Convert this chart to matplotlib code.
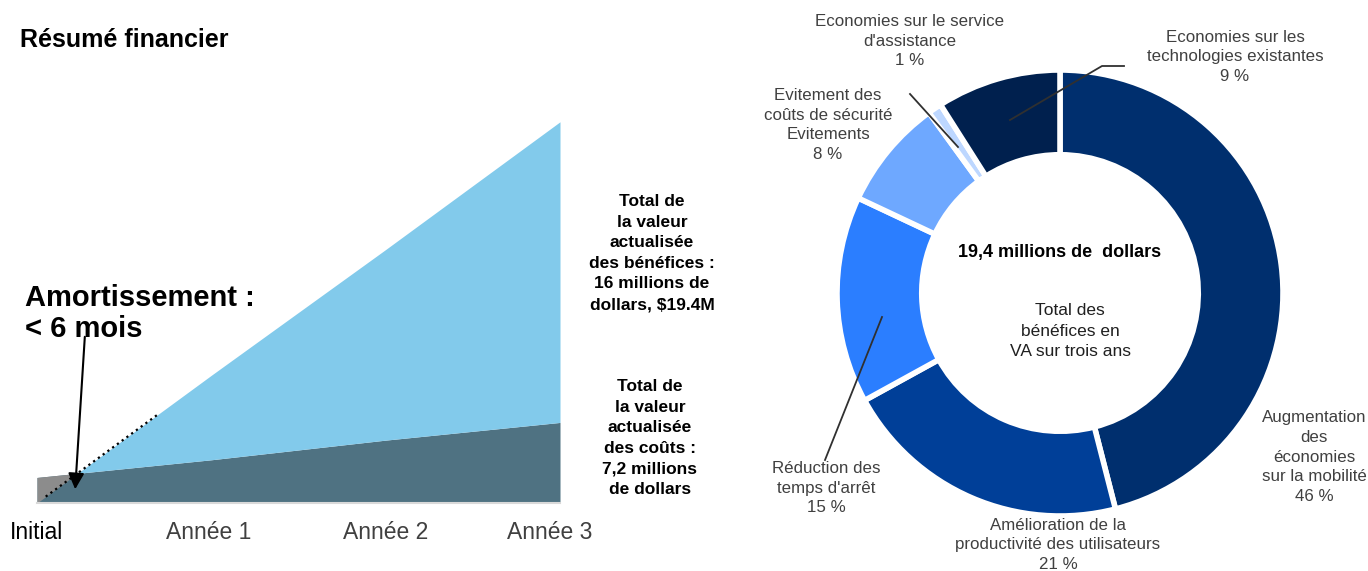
import numpy as np
import matplotlib
matplotlib.use("Agg")
import matplotlib.pyplot as plt
import matplotlib.transforms as mtransforms

plt.rcParams['font.family'] = ['Liberation Sans', 'DejaVu Sans']

# Données - courbe cumulative (millions $)
annees = [0, 1, 2, 3]
etiquettes_annees = ['Initial', 'Année 1', 'Année 2', 'Année 3']
benefices = [0.0, 6.5, 12.9, 19.4]
couts = [1.3, 2.2, 3.2, 4.1]

# Données - répartition des bénéfices (%)
parts = [46, 21, 15, 8, 1, 9]
noms_parts = [
    "Augmentation\ndes\néconomies\nsur la mobilité",
    "Amélioration de la\nproductivité des utilisateurs",
    "Réduction des\ntemps d'arrêt",
    "Evitement des\ncoûts de sécurité\nEvitements",
    "Economies sur le service\nd'assistance",
    "Economies sur les\ntechnologies existantes",
]
couleurs_parts = ['#002F6E', '#003F98', '#2B7EFF', '#6EA8FF', '#BDD7FF', '#00204E']

W, H = 1368, 571


def px_box(x0, y0, x1, y1):
    # pixels (haut-gauche) -> fraction de figure
    return [x0 / W, 1 - y1 / H, (x1 - x0) / W, (y1 - y0) / H]


fig = plt.figure(figsize=(W / 100, H / 100), dpi=100)

# Graphique de gauche: surfaces
ax1 = fig.add_axes(px_box(37, 110, 560, 503))
x = np.array(annees, dtype=float)
b = np.array(benefices)
c = np.array(couts)
ax1.fill_between(x, 0, c, color='#4F7282', lw=0)
ax1.fill_between(x, b, c, where=c >= b, interpolate=True, color='#8C8C8C', lw=0)
ax1.fill_between(x, c, b, where=b >= c, interpolate=True, color='#82CAEB', lw=0)
xs = np.linspace(0.05, 0.7, 9)
ax1.plot(xs, np.interp(xs, x, b), ls=':', color='black', lw=1.6)
ax1.set_xlim(0, 3)
ax1.set_ylim(0, 20)
for s in ['top', 'right', 'left']:
    ax1.spines[s].set_visible(False)
ax1.spines['bottom'].set_color('#D9D9D9')
ax1.spines['bottom'].set_linewidth(1.5)
ax1.set_yticks([])
ax1.set_xticks(annees)
ax1.set_xticklabels(etiquettes_annees, fontsize=16.5)
ax1.tick_params(axis='x', length=0, pad=13)
decalages = [0, -3, 0, -10]
for i, t in enumerate(ax1.get_xticklabels()):
    t.set_color('black' if i == 0 else '#404040')
    t.set_transform(t.get_transform() +
                    mtransforms.ScaledTranslation(decalages[i] / 100, 0, fig.dpi_scale_trans))

# Graphique de droite: anneau
ax2 = fig.add_axes(px_box(837, 70, 1283, 516))
ax2.pie(parts, colors=couleurs_parts, startangle=90, counterclock=False,
        radius=1, wedgeprops=dict(width=0.38, edgecolor='white', linewidth=4))
ax2.set_xlim(-1, 1)
ax2.set_ylim(-1, 1)
ax2.set_aspect('equal')
ax2.axis('off')

# Calque pour les textes (coordonnées en pixels)
ov = fig.add_axes([0, 0, 1, 1], facecolor='none')
ov.set_xlim(0, W)
ov.set_ylim(H, 0)
ov.axis('off')

ov.text(20, 40, 'Résumé financier', fontsize=18, fontweight='bold', va='center')
ov.text(25, 298, 'Amortissement :', fontsize=21, fontweight='bold', va='center')
ov.text(25, 329, '< 6 mois', fontsize=21, fontweight='bold', va='center')
ov.annotate('', xy=(75, 492), xytext=(85, 334),
            arrowprops=dict(arrowstyle='-|>', color='black', lw=1.5, mutation_scale=24))

ov.text(652, 253, 'Total de\nla valeur\nactualisée\ndes bénéfices :\n16 millions de\ndollars, $19.4M',
        fontsize=12.5, fontweight='bold', ha='center', va='center', linespacing=1.47)
ov.text(650, 438, 'Total de\nla valeur\nactualisée\ndes coûts :\n7,2 millions\nde dollars',
        fontsize=12.5, fontweight='bold', ha='center', va='center', linespacing=1.47)

ov.text(1060, 253, '19,4 millions de  dollars', fontsize=13, fontweight='bold',
        ha='center', va='center')
ov.text(1070, 331, 'Total des\nbénéfices en\nVA sur trois ans', fontsize=12.5,
        ha='center', va='center', color='#202020', linespacing=1.42)

# étiquettes de l'anneau
pos_etiquettes = [(1314, 457), (1058, 545), (826, 488), (828, 125), (910, 41), (1235, 57)]
gris = '#404040'
for nom, p, (tx, ty) in zip(noms_parts, parts, pos_etiquettes):
    ov.text(tx, ty, f'{nom}\n{p} %', fontsize=12.2, color=gris, ha='center', va='center',
            linespacing=1.38)

# lignes de rappel
ov.plot([1010, 1102, 1124], [120, 66, 66], color='#303030', lw=1.3)
ov.plot([910, 958], [94, 147], color='#303030', lw=1.3)
ov.plot([882, 825], [317, 460], color='#303030', lw=1.3)

plt.savefig('out.png', dpi=100)
